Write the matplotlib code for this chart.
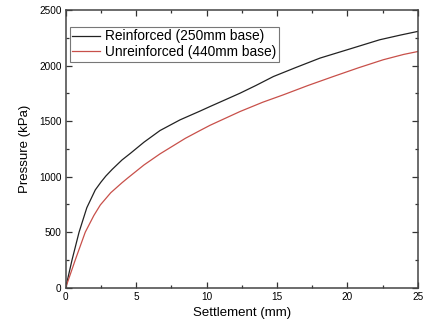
import matplotlib
matplotlib.use("Agg")
import matplotlib.pyplot as plt
from matplotlib.ticker import MultipleLocator

plt.rcParams['font.family'] = ['Liberation Sans', 'DejaVu Sans']

# Reinforced (250mm base)
s_reinf = [0, 0.45, 0.95, 1.5, 2.1, 2.5, 2.85, 3.3, 4.0, 4.6, 5.56, 6.7, 8.12, 9.54, 10.25, 11.3, 12.38, 13.5, 14.75, 16.3, 18.06, 20.2, 22.3, 23.8, 25.0]
p_reinf = [0, 250, 500, 720, 880, 950, 1005, 1065, 1150, 1210, 1310, 1415, 1511, 1590, 1631, 1690, 1751, 1820, 1901, 1980, 2067, 2150, 2232, 2275, 2307]

# Unreinforced (440mm base)
s_unre = [0, 0.68, 1.39, 2.0, 2.46, 3.2, 4.0, 4.38, 5.56, 6.7, 8.5, 9.54, 10.25, 12.38, 14.0, 15.45, 17.2, 19.0, 20.8, 22.55, 24.0, 25.0]
p_unre = [0, 250, 500, 650, 745, 855, 945, 985, 1105, 1205, 1345, 1415, 1462, 1586, 1670, 1736, 1820, 1901, 1980, 2052, 2100, 2126]

labels = ['Reinforced (250mm base)', 'Unreinforced (440mm base)']
x_ticks = [0, 5, 10, 15, 20, 25]
y_ticks = [0, 500, 1000, 1500, 2000, 2500]

fig = plt.figure(figsize=(4.23, 3.31), dpi=100)
ax = fig.add_axes([0.1553, 0.1308, 0.8322, 0.839])

ax.plot(s_reinf, p_reinf, color='#222222', lw=0.9, label=labels[0])
ax.plot(s_unre, p_unre, color='#c8504a', lw=0.9, label=labels[1])

ax.set_xlim(0, 25)
ax.set_ylim(0, 2500)
ax.set_xticks(x_ticks)
ax.set_yticks(y_ticks)
ax.xaxis.set_minor_locator(MultipleLocator(2.5))
ax.yaxis.set_minor_locator(MultipleLocator(250))
ax.tick_params(which='both', direction='in', top=True, right=True, labeltop=False, labelright=False,
               width=0.9, color='#333333')
ax.tick_params(which='major', length=4, labelsize=7.2, pad=3)
ax.tick_params(which='minor', length=2.5)
for sp in ax.spines.values():
    sp.set_linewidth(1.1)
    sp.set_color('#444444')

ax.set_xlabel('Settlement (mm)', fontsize=9.5, labelpad=4)
ax.set_ylabel('Pressure (kPa)', fontsize=9.5, labelpad=6)

leg = ax.legend(loc='upper left', bbox_to_anchor=(0.0115, 0.94), fontsize=9.9, frameon=True,
                fancybox=False, edgecolor='#555555', handlelength=2.0, handletextpad=0.4,
                borderpad=0.2, labelspacing=0.12, borderaxespad=0.0)
leg.get_frame().set_linewidth(0.8)

fig.savefig('out.png', dpi=100)
